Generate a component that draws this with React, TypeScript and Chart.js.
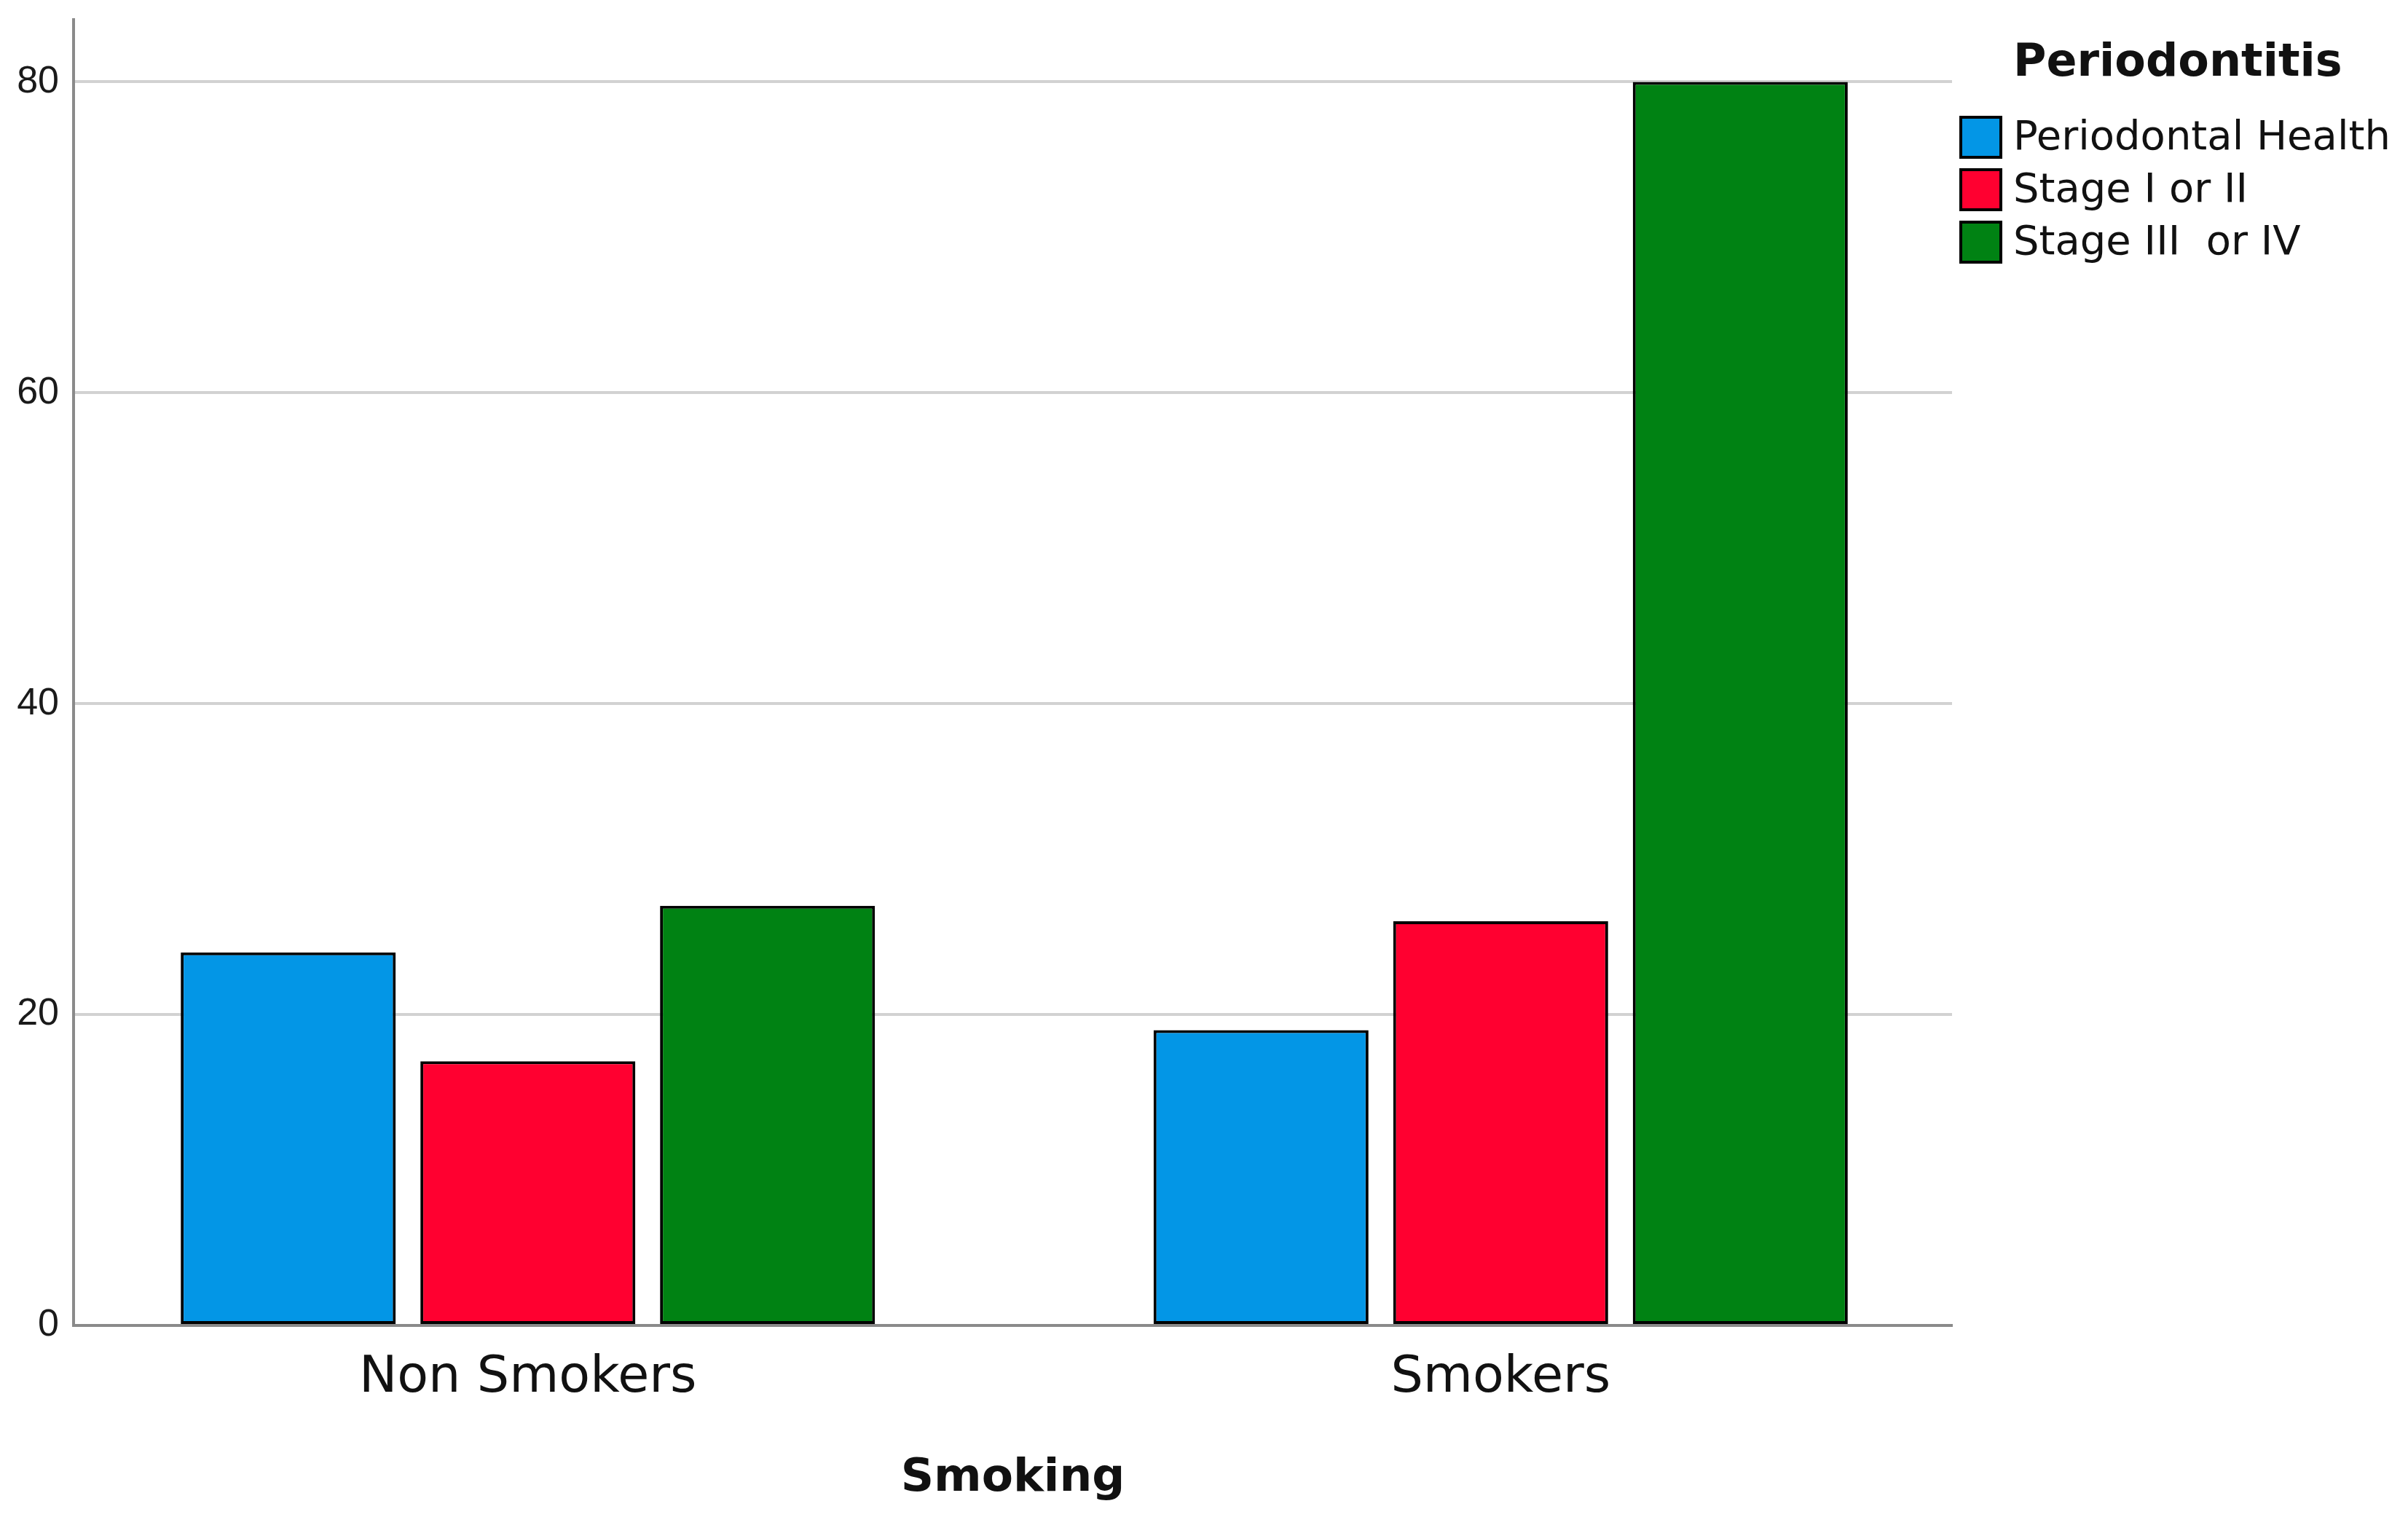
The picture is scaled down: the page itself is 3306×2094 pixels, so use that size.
import React, { useEffect, useRef } from 'react';
import { Chart, registerables } from 'chart.js';

Chart.register(...registerables);

const categories = ['Non Smokers', 'Smokers'];
const seriesNames = ['Periodontal Health', 'Stage I or II', 'Stage III  or IV'];
const periodontalHealth = [24, 19];
const stageIorII = [17, 26];
const stageIIIorIV = [27, 80];
const seriesColors = ['#0396E6', '#FF0030', '#008213'];
const yTicks = [0, 20, 40, 60, 80];
const legendTitle = 'Periodontitis';
const xTitle = 'Smoking';

const seriesValues = [periodontalHealth, stageIorII, stageIIIorIV];

const sideLegend = {
  id: 'sideLegend',
  afterDraw(chart: any) {
    const ctx = chart.ctx;
    const area = chart.chartArea;
    const x0 = area.right + 12;
    ctx.save();
    ctx.textBaseline = 'middle';
    ctx.textAlign = 'left';
    ctx.fillStyle = '#111';
    ctx.font = 'bold 62px "DejaVu Sans"';
    ctx.fillText(legendTitle, x0 + 72, 88);
    chart.data.datasets.forEach((ds: any, i: number) => {
      const cy = 188 + i * 72;
      ctx.fillStyle = ds.backgroundColor;
      ctx.fillRect(x0, cy - 27, 55, 55);
      ctx.strokeStyle = '#000';
      ctx.lineWidth = 4;
      ctx.strokeRect(x0, cy - 27, 55, 55);
      ctx.fillStyle = '#111';
      ctx.font = '56px "DejaVu Sans"';
      ctx.fillText(ds.label, x0 + 72, cy + 2);
    });
    ctx.restore();
  },
};

export default function App() {
  const ref = useRef<HTMLCanvasElement>(null);

  useEffect(() => {
    if (!ref.current) return;
    const chart = new Chart(ref.current, {
      type: 'bar',
      data: {
        datasets: seriesNames.map((name, si) => ({
          label: name,
          data: categories.map((_, ci) => ({ x: ci, y: seriesValues[si][ci] })),
          backgroundColor: seriesColors[si],
          borderColor: '#000',
          borderWidth: 4,
          borderSkipped: false,
          barPercentage: 0.897,
          categoryPercentage: 0.739,
        })),
      },
      options: {
        animation: false,
        responsive: true,
        maintainAspectRatio: false,
        devicePixelRatio: 1,
        layout: { padding: { left: 0, top: 27, right: 626, bottom: 0 } },
        plugins: {
          legend: { display: false },
          tooltip: { enabled: false },
        },
        scales: {
          x: {
            type: 'linear',
            min: -0.467,
            max: 1.464,
            offset: false,
            afterBuildTicks: (s: any) => {
              s.ticks = categories.map((_, i) => ({ value: i }));
            },
            afterFit: (s: any) => {
              s.height = 274;
              s.paddingLeft = 0;
              s.paddingRight = 0;
            },
            grid: { display: false, drawTicks: false },
            border: { display: true, color: '#8a8a8a', width: 4 },
            ticks: {
              callback: (v: any) => categories[v],
              font: { family: 'DejaVu Sans', size: 70 },
              color: '#111',
              padding: 31,
              maxRotation: 0,
              autoSkip: false,
            },
            title: {
              display: true,
              text: xTitle,
              font: { family: 'DejaVu Sans', size: 63, weight: 'bold' },
              color: '#111',
              padding: { top: 0, bottom: 26 },
            },
          },
          y: {
            min: 0,
            max: 84,
            afterBuildTicks: (s: any) => {
              s.ticks = yTicks.map((v) => ({ value: v }));
            },
            afterFit: (s: any) => {
              s.width = 101;
              s.paddingTop = 0;
              s.paddingBottom = 0;
            },
            border: { display: true, color: '#8a8a8a', width: 4 },
            grid: {
              color: (c: any) => (c.tick && c.tick.value === 0 ? 'rgba(0,0,0,0)' : '#d2d2d2'),
              lineWidth: 4,
              drawTicks: false,
            },
            ticks: {
              font: { family: 'Liberation Sans', size: 52 },
              color: '#1a1a1a',
              padding: 20,
            },
          },
        },
      } as any,
      plugins: [sideLegend],
    });
    return () => chart.destroy();
  }, []);

  return (
    <div style={{ position: 'fixed', left: 0, top: 0, width: 3306, height: 2094, background: '#fff' }}>
      <canvas ref={ref} />
    </div>
  );
}
